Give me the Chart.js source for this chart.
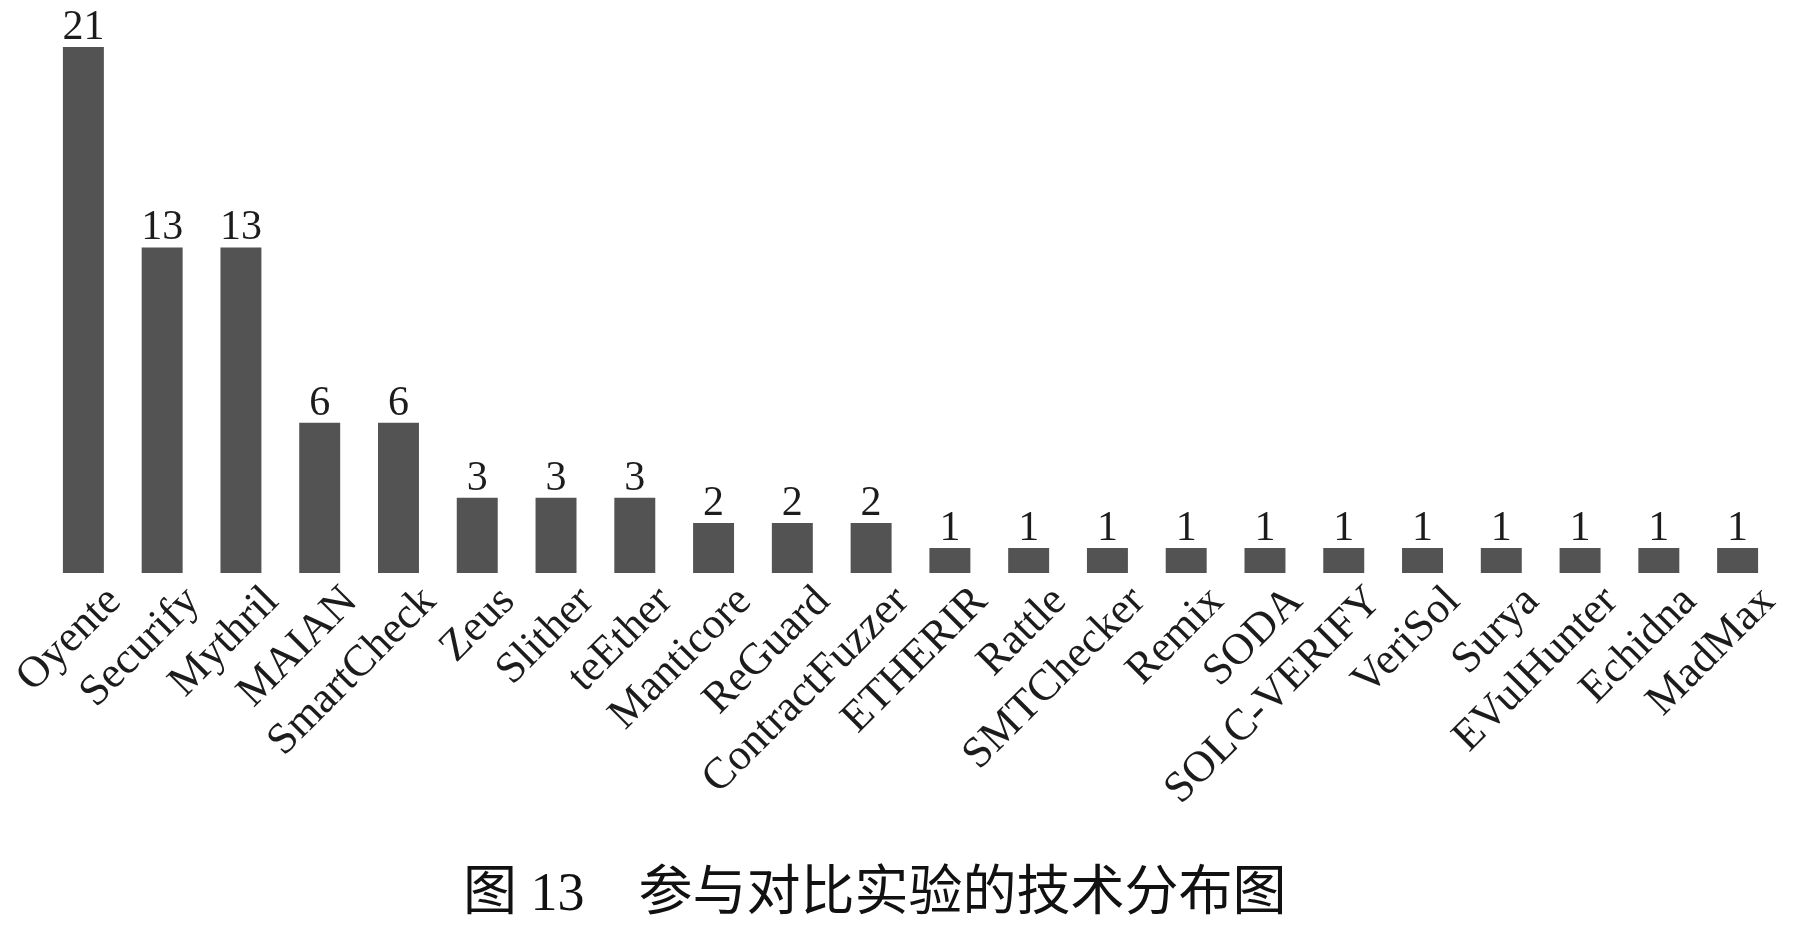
<!DOCTYPE html>
<html>
<head>
<meta charset="utf-8">
<script src="https://cdn.jsdelivr.net/npm/chart.js@4.4.1/dist/chart.umd.min.js"></script>
<style>
  html, body { margin: 0; padding: 0; background: #fff; }
  #wrap { position: relative; width: 1798px; height: 929px; overflow: hidden; }
  #caption {
    position: absolute; left: 463px; top: 862px;
    font-family: "Liberation Serif", "Noto Sans CJK SC", serif;
    font-size: 54px; line-height: 60px; color: #111; white-space: pre;
  }
</style>
</head>
<body>
<div id="wrap">
  <canvas id="grafico" width="1798" height="929"></canvas>
  <div id="caption">图 13　参与对比实验的技术分布图</div>
</div>
<script>
var ferramentas = ['Oyente', 'Securify', 'Mythril', 'MAIAN', 'SmartCheck', 'Zeus', 'Slither', 'teEther',
  'Manticore', 'ReGuard', 'ContractFuzzer', 'ETHERIR', 'Rattle', 'SMTChecker', 'Remix', 'SODA',
  'SOLC-VERIFY', 'VeriSol', 'Surya', 'EVulHunter', 'Echidna', 'MadMax'];
var quantidades = [21, 13, 13, 6, 6, 3, 3, 3, 2, 2, 2, 1, 1, 1, 1, 1, 1, 1, 1, 1, 1, 1];
var eixoY = { min: 0, max: 21 };

(function () {
  var corBarra = '#535353';
  var corTexto = '#1c1c1c';
  var fonteSerif = '"Liberation Serif", "Times New Roman", serif';

  // numeros em cima das barras
  var rotulosValor = {
    id: 'rotulosValor',
    afterDatasetsDraw: function (chart) {
      var ctx = chart.ctx;
      var meta = chart.getDatasetMeta(0);
      ctx.save();
      ctx.font = '42px ' + fonteSerif;
      ctx.fillStyle = corTexto;
      ctx.textAlign = 'center';
      ctx.textBaseline = 'alphabetic';
      meta.data.forEach(function (barra, i) {
        ctx.fillText(String(quantidades[i]), barra.x, barra.y - 8);
      });
      ctx.restore();
    }
  };

  new Chart(document.getElementById('grafico'), {
    type: 'bar',
    data: {
      labels: ferramentas,
      datasets: [{
        data: quantidades,
        backgroundColor: corBarra,
        borderWidth: 0,
        categoryPercentage: 1,
        barPercentage: 0.52
      }]
    },
    options: {
      responsive: false,
      animation: false,
      layout: { padding: { top: 47, left: 44, right: 21, bottom: 0 } },
      plugins: { legend: { display: false }, tooltip: { enabled: false } },
      scales: {
        x: {
          grid: { display: false },
          border: { display: false },
          ticks: {
            autoSkip: false,
            minRotation: 45,
            maxRotation: 45,
            padding: -5,
            labelOffset: 31,
            color: corTexto,
            font: { family: fonteSerif, size: 44 }
          },
          afterFit: function (axis) {
            axis.height = 356;
            axis.paddingLeft = 0;
            axis.paddingRight = 0;
          }
        },
        y: { display: false, min: eixoY.min, max: eixoY.max }
      }
    },
    plugins: [rotulosValor]
  });
})();
</script>
</body>
</html>
